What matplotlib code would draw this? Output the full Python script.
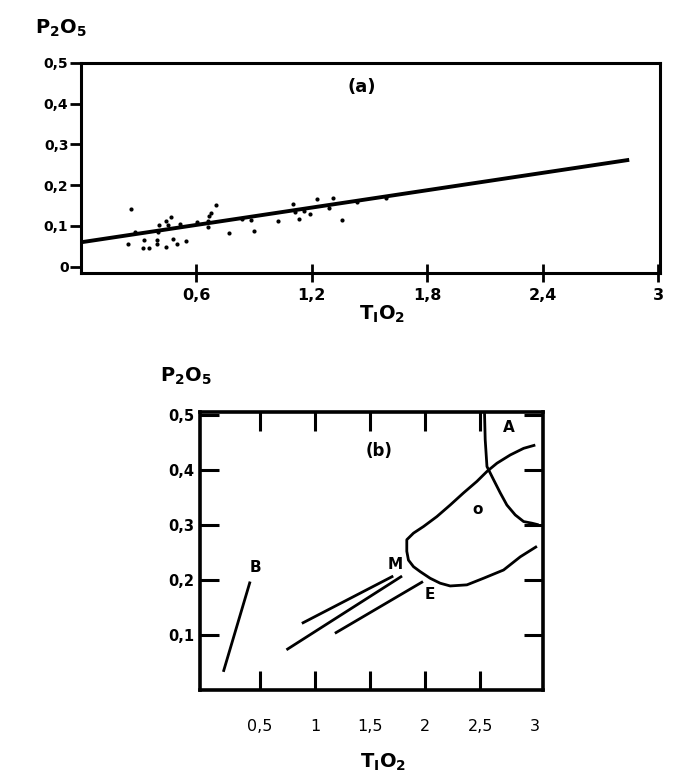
import matplotlib
matplotlib.use('Agg')
import matplotlib.pyplot as plt

# -----------------------------------------------------------------------
# Data
# -----------------------------------------------------------------------
# (a) TiO2 vs P2O5 scatter with linear trend
tio2_a = [0.245, 0.259, 0.280, 0.320, 0.327, 0.355, 0.396, 0.396, 0.402,
          0.407, 0.440, 0.440, 0.454, 0.466, 0.480, 0.497, 0.515, 0.546,
          0.605, 0.660, 0.662, 0.665, 0.677, 0.701, 0.770, 0.836, 0.885,
          0.897, 1.024, 1.101, 1.115, 1.132, 1.158, 1.193, 1.228, 1.288,
          1.311, 1.355, 1.436, 1.584]
p2o5_a = [0.057, 0.141, 0.086, 0.047, 0.065, 0.045, 0.065, 0.056, 0.086,
          0.102, 0.113, 0.048, 0.102, 0.123, 0.067, 0.056, 0.106, 0.062,
          0.110, 0.112, 0.098, 0.125, 0.132, 0.151, 0.083, 0.116, 0.114,
          0.088, 0.113, 0.154, 0.135, 0.117, 0.137, 0.129, 0.165, 0.143,
          0.168, 0.114, 0.159, 0.168]
trend_x = [0.0, 2.85]
trend_y = [0.060, 0.262]

xticks_a = [0.6, 1.2, 1.8, 2.4, 3.0]
xlabels_a = ['0,6', '1,2', '1,8', '2,4', '3']
yticks_a = [0, 0.1, 0.2, 0.3, 0.4, 0.5]
ylabels_a = ['0', '0,1', '0,2', '0,3', '0,4', '0,5']

# (b) discrimination diagram fields
b_x = [0.167, 0.41]
b_y = [0.033, 0.197]
m1_x = [0.88, 1.71]
m1_y = [0.121, 0.207]
m2_x = [0.74, 1.79]
m2_y = [0.073, 0.207]
e_x = [1.18, 1.98]
e_y = [0.103, 0.197]
o_x = [3.015, 2.864, 2.712, 2.530, 2.379, 2.227, 2.136, 2.045, 1.955, 1.894,
       1.848, 1.833, 1.833, 1.894, 1.985, 2.106, 2.227, 2.348, 2.470, 2.561,
       2.652, 2.773, 2.894, 3.000]
o_y = [0.261, 0.242, 0.218, 0.203, 0.191, 0.189, 0.194, 0.203, 0.215, 0.224,
       0.236, 0.252, 0.273, 0.285, 0.297, 0.315, 0.336, 0.358, 0.379, 0.397,
       0.412, 0.427, 0.439, 0.445]
a_x = [2.539, 2.545, 2.561, 2.621, 2.682, 2.742, 2.818, 2.894, 2.970, 3.03]
a_y = [0.503, 0.455, 0.406, 0.382, 0.358, 0.336, 0.318, 0.306, 0.303, 0.300]

field_labels = ['B', 'M', 'E', 'A', 'o']
field_lx = [0.46, 1.73, 2.04, 2.76, 2.476]
field_ly = [0.223, 0.228, 0.173, 0.476, 0.327]

xticks_b = [0.5, 1, 1.5, 2, 2.5, 3]
xlabels_b = ['0,5', '1', '1,5', '2', '2,5', '3']
yticks_b = [0.1, 0.2, 0.3, 0.4, 0.5]
ylabels_b = ['0,1', '0,2', '0,3', '0,4', '0,5']

# -----------------------------------------------------------------------
# Figure
# -----------------------------------------------------------------------
plt.rcParams['font.family'] = ['DejaVu Sans']
plt.rcParams['mathtext.fontset'] = 'dejavusans'

W, H = 675, 777
fig = plt.figure(figsize=(W / 100, H / 100), dpi=100)


def px(x, y):
    return x / W, 1 - y / H


# ---- panel (a) --------------------------------------------------------
ax = fig.add_axes([81 / W, 1 - 273.3 / H, (660 - 81) / W, (273.3 - 62.7) / H])
ax.scatter(tio2_a, p2o5_a, s=9, color='black', zorder=3, linewidths=0)
ax.plot(trend_x, trend_y, color='black', lw=2.8, solid_capstyle='butt')
ax.set_xlim(0, 3.01)
ax.set_ylim(-0.016, 0.5)
ax.set_xticks(xticks_a)
ax.set_xticklabels(xlabels_a, fontsize=11.5, fontweight='bold')
ax.set_yticks(yticks_a)
ax.set_yticklabels(ylabels_a, fontsize=10, fontweight='bold')
ax.tick_params(axis='x', direction='inout', length=13, width=2, pad=4)
ax.tick_params(axis='y', direction='out', length=8, width=2, pad=1)
for s in ax.spines.values():
    s.set_linewidth(2.2)
ax.text(1.46, 0.44, '(a)', ha='center', va='center', fontsize=13,
        fontweight='bold')

fig.text(*px(35, 34), r'$\mathbf{P_2O_5}$', fontsize=14, ha='left',
         va='baseline')
fig.text(*px(382, 320), r'$\mathbf{T_IO_2}$', fontsize=14, ha='center',
         va='baseline')

# ---- panel (b) --------------------------------------------------------
bx = fig.add_axes([200 / W, 1 - 690 / H, 343 / W, 278 / H])
for xs, ys in [(b_x, b_y), (m1_x, m1_y), (m2_x, m2_y), (e_x, e_y),
               (o_x, o_y), (a_x, a_y)]:
    bx.plot(xs, ys, color='black', lw=2.0, solid_capstyle='butt')
for lab, lx, ly in zip(field_labels, field_lx, field_ly):
    bx.text(lx, ly, lab, ha='center', va='center', fontsize=11,
            fontweight='bold')
bx.text(1.585, 0.435, '(b)', ha='center', va='center', fontsize=12,
        fontweight='bold')

bx.set_xlim(-0.045, 3.07)
bx.set_ylim(0, 0.505)
bx.set_xticks(xticks_b)
bx.set_xticklabels(xlabels_b, fontsize=11.5)
bx.set_yticks(yticks_b)
bx.set_yticklabels(ylabels_b, fontsize=10.5, fontweight='bold')
bx.tick_params(axis='both', direction='in', length=14, width=2.2,
               top=True, right=True)
bx.tick_params(axis='x', pad=21)
bx.tick_params(axis='y', pad=4)
last = bx.xaxis.get_major_ticks()[-1]
last.tick1line.set_visible(False)
last.tick2line.set_visible(False)
for s in bx.spines.values():
    s.set_linewidth(2.6)

fig.text(*px(160, 382), r'$\mathbf{P_2O_5}$', fontsize=14, ha='left',
         va='baseline')
fig.text(*px(383, 768), r'$\mathbf{T_IO_2}$', fontsize=14, ha='center',
         va='baseline')

fig.savefig('out.png', dpi=100, facecolor='white')
